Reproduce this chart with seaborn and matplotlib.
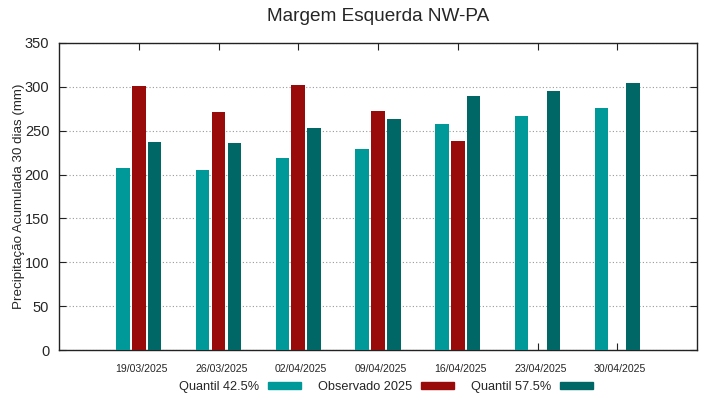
import numpy as np
import pandas as pd
import matplotlib
matplotlib.use("Agg")
import matplotlib.pyplot as plt
import matplotlib.transforms as mtransforms
import seaborn as sns
from matplotlib.patches import Patch

dates = ["19/03/2025", "26/03/2025", "02/04/2025", "09/04/2025",
         "16/04/2025", "23/04/2025", "30/04/2025"]
q425 = [207.5, 205, 219, 229, 258, 267, 276]
obs2025 = [301, 271, 302, 272, 238.5, np.nan, np.nan]
q575 = [237.5, 236.5, 253, 263, 290, 295.5, 304.5]
series_names = ["Quantil 42.5%", "Observado 2025", "Quantil 57.5%"]
colors = ["#009999", "#990a0a", "#006666"]

rows = []
for name, vals in zip(series_names, [q425, obs2025, q575]):
    for d, v in zip(dates, vals):
        rows.append({"date": d, "serie": name, "valor": v})
df = pd.DataFrame(rows)

sns.set_style("white")
plt.rcParams['font.family'] = ['Liberation Sans', 'DejaVu Sans']

fig = plt.figure(figsize=(7.19, 3.99), dpi=100)
ax = fig.add_axes([59/719, 1-350/399, (697-59)/719, (350-43)/399])

sns.barplot(data=df, x="date", y="valor", hue="serie", order=dates,
            hue_order=series_names, palette=colors, width=0.6, gap=0.15,
            ax=ax, legend=False, saturation=1, zorder=3, linewidth=0)

ax.set_xlim(-1, 7)
ax.set_ylim(0, 350)
ax.set_yticks(np.arange(0, 351, 50))
ax.yaxis.grid(True, linestyle=(0, (1, 2)), color="#999999", linewidth=0.8, zorder=0)
ax.xaxis.grid(False)
ax.set_axisbelow(True)
for s in ax.spines.values():
    s.set_visible(True)
    s.set_color("#222222")
    s.set_linewidth(1.0)
ax.tick_params(axis="both", direction="in", length=5, color="#222222",
               top=True, right=True, bottom=True, left=True)
ax.tick_params(axis="x", labelsize=7.6, pad=10)
ax.tick_params(axis="y", labelsize=10.5, pad=7)
offset = mtransforms.ScaledTranslation(3/100, 0, fig.dpi_scale_trans)
for lab in ax.get_xticklabels():
    lab.set_transform(lab.get_transform() + offset)
ax.set_xlabel("")
ax.set_ylabel("Precipitação Acumulada 30 dias (mm)", fontsize=9.6, labelpad=0)
ax.set_title("Margem Esquerda NW-PA", fontsize=13.7, pad=16)

handles = [Patch(facecolor=c, edgecolor=c) for c in colors]
fig.legend(handles, series_names, loc="center", bbox_to_anchor=(386/719, 1-387/399),
           ncol=3, frameon=False, markerfirst=False, fontsize=9.2,
           handlelength=2.6, handleheight=0.5, columnspacing=1.3, handletextpad=0.7)

fig.savefig("out.png", dpi=100)
